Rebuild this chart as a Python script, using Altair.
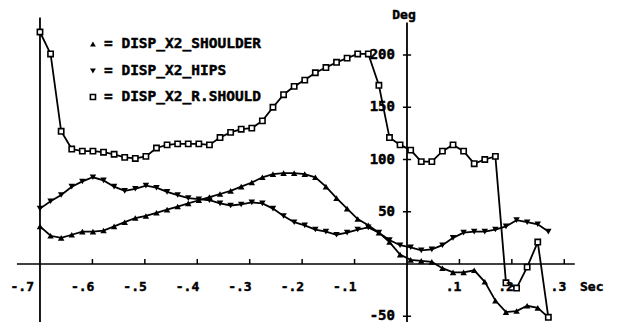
import altair as alt
import pandas as pd

# sampling grid (seconds)
times = [-0.7000, -0.6798, -0.6596, -0.6394, -0.6192, -0.5990, -0.5788, -0.5586, -0.5384, -0.5182,
         -0.4980, -0.4778, -0.4576, -0.4374, -0.4172, -0.3970, -0.3768, -0.3566, -0.3364, -0.3162,
         -0.2960, -0.2758, -0.2556, -0.2354, -0.2152, -0.1950, -0.1748, -0.1546, -0.1344, -0.1142,
         -0.0940, -0.0738, -0.0536, -0.0334, -0.0132, 0.0070, 0.0272, 0.0474, 0.0676, 0.0878,
         0.1080, 0.1282, 0.1484, 0.1686, 0.1888, 0.2090, 0.2292, 0.2494, 0.2696]

shoulder = [36, 27, 25, 28, 31, 31, 32, 36, 40, 44,
            46, 49, 52, 55, 58, 61, 64, 67, 70, 74,
            78, 83, 86, 87, 87, 86, 83, 74, 63, 53,
            43, 37, 30, 21, 9, 4, 3, 2, -4, -8,
            -8, -6, -17, -35, -46, -45, -40, -42, -51]

hips = [53, 60, 66, 74, 79, 83, 80, 74, 70, 72,
        75, 73, 69, 66, 63, 62, 61, 58, 56, 57,
        59, 58, 53, 46, 40, 37, 33, 31, 28, 30,
        33, 35, 30, 23, 18, 16, 13, 14, 18, 25,
        30, 31, 31, 33, 36, 42, 40, 38, 31]

r_should = [222, 201, 127, 110, 108, 108, 107, 105, 102, 101,
            103, 111, 114, 115, 115, 115, 114, 121, 126, 129,
            130, 137, 150, 162, 170, 176, 183, 188, 193, 197,
            201, 201, 171, 121, 114, 109, 98, 98, 108, 114,
            108, 96, 100, 103, -18, -23, -3, 21, -51]

series_names = ["DISP_X2_SHOULDER", "DISP_X2_HIPS", "DISP_X2_R.SHOULD"]

x_ticks = [-0.6, -0.5, -0.4, -0.3, -0.2, -0.1, 0.1, 0.2, 0.3]
x_tick_labels = ["-.6", "-.5", "-.4", "-.3", "-.2", "-.1", ".1", ".2", ".3"]
x_first_label = ["-.7"]
x_first_value = [-0.7]
y_ticks = [-50, 50, 100, 150, 200]
y_tick_labels = ["-50", "50", "100", "150", "200"]
x_unit = ["Sec"]
y_unit = ["Deg"]

FONT = "DejaVu Sans Mono"
TXT = dict(font=FONT, fontWeight="bold", color="black", stroke="black", strokeWidth=0.45)
X_DOM = [-0.761, 0.3872]
Y_DOM = [-55.5, 244.98]
xs = alt.Scale(domain=X_DOM, nice=False, zero=False)
ys = alt.Scale(domain=Y_DOM, nice=False, zero=False)


def X(f):
    return alt.X(f, type="quantitative", scale=xs, axis=None)


def Y(f):
    return alt.Y(f, type="quantitative", scale=ys, axis=None)


rows = []
for name, vals in zip(series_names, [shoulder, hips, r_should]):
    for t, v in zip(times, vals):
        rows.append({"t": t, "v": v, "series": name})
df = pd.DataFrame(rows)

lines = alt.Chart(df).mark_line(color="black", strokeWidth=1.8).encode(
    x=X("t"), y=Y("v"), detail="series:N", order="t:Q")

pts_sh = alt.Chart(df).transform_filter(alt.datum.series == series_names[0]).mark_point(
    shape="triangle-up", filled=True, color="black", size=42, opacity=1).encode(x=X("t"), y=Y("v"))
pts_hp = alt.Chart(df).transform_filter(alt.datum.series == series_names[1]).mark_point(
    shape="triangle-down", filled=True, color="black", size=42, opacity=1).encode(x=X("t"), y=Y("v"))
pts_rs = alt.Chart(df).transform_filter(alt.datum.series == series_names[2]).mark_point(
    shape="square", filled=True, fill="white", stroke="black", strokeWidth=1.6, size=28,
    opacity=1).encode(x=X("t"), y=Y("v"))

# axes
hax = pd.DataFrame({"x": [-0.744], "x2": [0.320], "y": [0]})
h_axis = alt.Chart(hax).mark_rule(color="black", strokeWidth=1.6).encode(
    x=X("x"), x2="x2", y=Y("y"))

vax = pd.DataFrame({"x": [-0.70, 0.0], "y": [236, 231], "y2": [Y_DOM[0], Y_DOM[0]]})
v_axes = alt.Chart(vax).mark_rule(color="black", strokeWidth=1.8).encode(
    x=X("x"), y=Y("y"), y2="y2")

xt = pd.DataFrame({"x": x_ticks, "lab": x_tick_labels, "y0": [0] * len(x_ticks), "y1": [4.8] * len(x_ticks)})
x_tick_marks = alt.Chart(xt).mark_rule(color="black", strokeWidth=1.5).encode(
    x=X("x"), y=Y("y0"), y2="y1")
x_tick_text = alt.Chart(xt).mark_text(
    fontSize=13, align="right", baseline="middle", dx=2, **TXT).encode(
    x=X("x"), y=alt.Y("yl:Q", scale=ys, axis=None), text="lab").transform_calculate(yl="-22")

xf = pd.DataFrame({"x": x_first_value, "lab": x_first_label})
x_first_text = alt.Chart(xf).mark_text(
    fontSize=13, align="right", baseline="middle", dx=-6, **TXT).encode(
    x=X("x"), y=alt.Y("yl:Q", scale=ys, axis=None), text="lab").transform_calculate(yl="-22")

yt = pd.DataFrame({"y": y_ticks, "lab": y_tick_labels})
y_tick_marks = alt.Chart(yt).mark_rule(color="black", strokeWidth=1.5).encode(
    x=alt.X("xa:Q", scale=xs, axis=None), x2="xb:Q", y=Y("y")).transform_calculate(
    xa="-0.0078", xb="0.0078")
y_tick_text = alt.Chart(yt).mark_text(
    fontSize=14, align="right", baseline="middle", dx=-12, **TXT).encode(
    x=alt.X("xa:Q", scale=xs, axis=None), y=Y("y"), text="lab").transform_calculate(xa="0")

sec = pd.DataFrame({"x": [0.330], "y": [-22], "lab": x_unit})
sec_text = alt.Chart(sec).mark_text(
    fontSize=13, align="left", baseline="middle", **TXT).encode(
    x=X("x"), y=Y("y"), text="lab")

deg = pd.DataFrame({"x": [0.0], "y": [234.4], "lab": y_unit})
deg_text = alt.Chart(deg).mark_text(
    fontSize=13, align="center", baseline="alphabetic", dx=-3, **TXT).encode(
    x=X("x"), y=Y("y"), text="lab")

# legend
leg = pd.DataFrame({"name": series_names, "y": [210.5, 184.7, 159.8],
                    "lab": ["= " + n for n in series_names]})
leg_sh = alt.Chart(leg).transform_filter(alt.datum.name == series_names[0]).mark_point(
    shape="triangle-up", filled=True, color="black", size=34, opacity=1).encode(
    x=alt.X("lx:Q", scale=xs, axis=None), y=Y("y")).transform_calculate(lx="-0.599")
leg_hp = alt.Chart(leg).transform_filter(alt.datum.name == series_names[1]).mark_point(
    shape="triangle-down", filled=True, color="black", size=34, opacity=1).encode(
    x=alt.X("lx:Q", scale=xs, axis=None), y=Y("y")).transform_calculate(lx="-0.599")
leg_rs = alt.Chart(leg).transform_filter(alt.datum.name == series_names[2]).mark_point(
    shape="square", filled=True, fill="white", stroke="black", strokeWidth=1.6, size=26,
    opacity=1).encode(
    x=alt.X("lx:Q", scale=xs, axis=None), y=Y("y")).transform_calculate(lx="-0.599")
leg_text = alt.Chart(leg).mark_text(
    fontSize=14.5, align="left", baseline="middle", **TXT).encode(
    x=alt.X("lx:Q", scale=xs, axis=None), y=Y("y"), text="lab").transform_calculate(lx="-0.578")

chart = alt.layer(
    h_axis, v_axes, x_tick_marks, y_tick_marks,
    lines, pts_sh, pts_hp, pts_rs,
    x_tick_text, x_first_text, y_tick_text, sec_text, deg_text,
    leg_sh, leg_hp, leg_rs, leg_text,
).properties(
    width=602, height=314, padding=0,
    autosize=alt.AutoSizeParams(type="none"),
).configure_view(strokeWidth=0)

chart.save("out.html", embed_options={"renderer": "svg", "actions": False})
